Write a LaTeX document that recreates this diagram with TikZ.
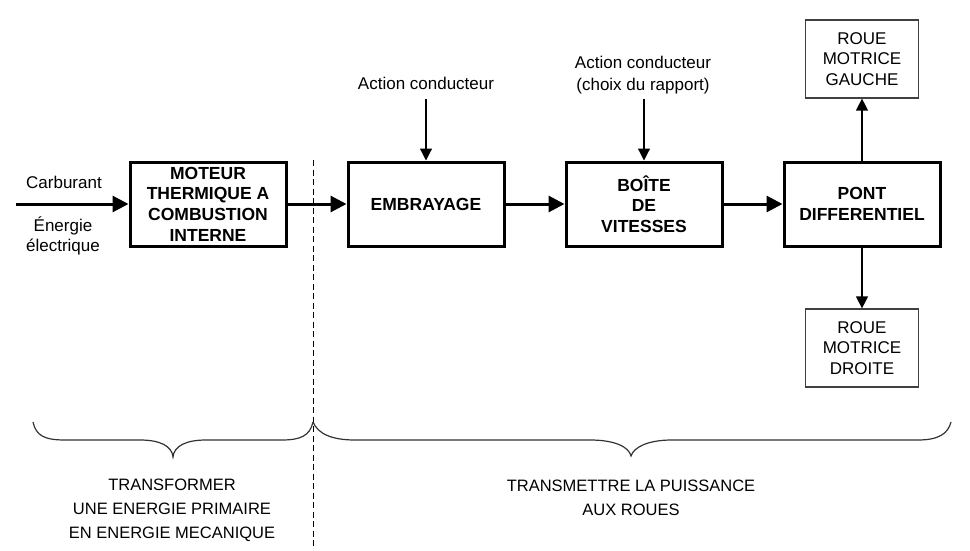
\documentclass[tikz,border=0pt]{standalone}
\usepackage{fontspec}
\setmainfont{Liberation Sans}
\usepackage{tikz}
\usetikzlibrary{arrows.meta}

\tikzset{
    bloc/.style={draw, line width=3pt, minimum width=156pt, minimum height=84pt,
        inner sep=0pt, align=center, font=\fontsize{17.5}{20.6}\selectfont\bfseries},
    roue/.style={draw=black!75, line width=1.2pt, minimum width=113pt, minimum height=78pt,
        inner sep=0pt, align=center, font=\fontsize{17}{20.5}\selectfont},
    label/.style={inner sep=0pt, align=center, font=\fontsize{17}{22}\selectfont},
    gros/.style={line width=3pt, -{Triangle[length=16pt,width=16pt]}},
    fin/.style={line width=1.2pt, -{Triangle[length=12pt,width=12pt]}},
    accolade/.style={line width=1.2pt, black!80}
}

\begin{document}
\begin{tikzpicture}[x=1pt, y=-1pt]
                    \useasboundingbox (0, 0) rectangle (970, 551);

                    \node[bloc] (moteur) at (208, 204) {MOTEUR\\THERMIQUE A\\COMBUSTION\\INTERNE};
                    \node[bloc] (embrayage) at (426, 204) {EMBRAYAGE};
                    \node[bloc] (boite) at (644, 204) {BOÎTE\\DE\\VITESSES};
                    \node[bloc] (pont) at (862, 204) {PONT\\DIFFERENTIEL};
                    \node[roue] (gauche) at (862, 59) {ROUE\\MOTRICE\\GAUCHE};
                    \node[roue] (droite) at (862, 348) {ROUE\\MOTRICE\\DROITE};

                    \node[label] (carburant) at (64, 182) {Carburant};
                    \node[label, font=\fontsize{17}{19.5}\selectfont] (energie) at (63, 236) {Énergie\\électrique};
                    \node[label] (action1) at (426, 83) {Action conducteur};
                    \node[label, font=\fontsize{17}{22}\selectfont] (action2) at (643, 75) {Action conducteur\\(choix du rapport)};

                    \coordinate (entree) at (16, 204);
                    \coordinate (haut1) at (426, 99);
                    \coordinate (haut2) at (644, 99);

                    \draw[gros] (entree) -- (moteur.west);
                    \draw[gros] (moteur) -- (embrayage);
                    \draw[gros] (embrayage) -- (boite);
                    \draw[gros] (boite) -- (pont);
                    \draw[fin] (haut1) -- (embrayage.north);
                    \draw[fin] (haut2) -- (boite.north);
                    \draw[fin] (pont.north) -- (gauche.south);
                    \draw[fin] (pont.south) -- (droite.north);

                    \coordinate (separation) at (313, 160);
                    \coordinate (bas) at (313, 548);
                    \draw[line width=1pt, dash pattern=on 6pt off 3.5pt] (separation) -- (bas);

                    \draw[accolade]
                        (33, 422) .. controls (36, 436) and (45, 440) .. (65, 440)
                        -- (140, 440) .. controls (160, 440) and (172, 446) .. (173, 457)
                        .. controls (174, 446) and (186, 440) .. (206, 440)
                        -- (282, 440) .. controls (300, 440) and (310, 436) .. (313, 422)
                    ;
                    \draw[accolade]
                        (313, 422) .. controls (318, 434) and (332, 440) .. (355, 440)
                        -- (590, 440) .. controls (615, 440) and (629, 447) .. (631, 456)
                        .. controls (634, 447) and (648, 440) .. (672, 440)
                        -- (918, 440) .. controls (938, 440) and (948, 434) .. (951, 422)
                    ;

                    \node[label, font=\fontsize{16.5}{24}\selectfont] (role1) at (172, 510) {TRANSFORMER\\UNE ENERGIE PRIMAIRE\\EN ENERGIE MECANIQUE};
                    \node[label, font=\fontsize{16.5}{24}\selectfont] (role2) at (631, 498) {TRANSMETTRE LA PUISSANCE\\AUX ROUES};
                \end{tikzpicture}
\end{document}
